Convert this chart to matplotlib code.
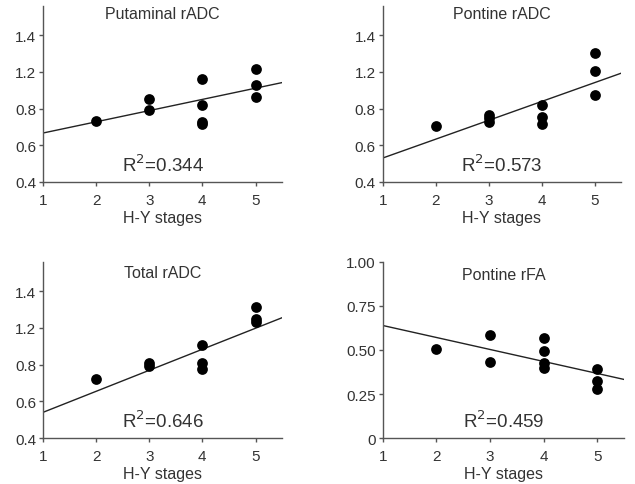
import matplotlib
matplotlib.use("Agg")
import matplotlib.pyplot as plt
import numpy as np

plt.rcParams['font.family'] = ['Liberation Sans', 'DejaVu Sans']

# ---- data ----
titles = ["Putaminal rADC", "Pontine rADC", "Total rADC", "Pontine rFA"]
r2_labels = ["R$^2$=0.344", "R$^2$=0.573", "R$^2$=0.646", "R$^2$=0.459"]

p1_x = [2, 3, 3, 4, 4, 4, 4, 5, 5, 5]
p1_y = [0.733, 0.851, 0.791, 0.964, 0.818, 0.727, 0.718, 1.015, 0.931, 0.862]
p1_line = [0.667, 0.942]

p2_x = [2, 3, 3, 3, 4, 4, 4, 5, 5, 5]
p2_y = [0.704, 0.767, 0.749, 0.727, 0.818, 0.755, 0.718, 1.105, 1.004, 0.876]
p2_line = [0.531, 0.993]

p3_x = [2, 3, 3, 4, 4, 4, 5, 5, 5]
p3_y = [0.720, 0.807, 0.795, 0.907, 0.809, 0.776, 1.113, 1.049, 1.031]
p3_line = [0.540, 1.056]

p4_x = [2, 3, 3, 4, 4, 4, 4, 5, 5, 5]
p4_y = [0.504, 0.583, 0.430, 0.568, 0.496, 0.427, 0.398, 0.393, 0.323, 0.276]
p4_line = [0.639, 0.333]

line_x = [1, 5.5]
x_ticks = [1, 2, 3, 4, 5]
radc_tick_pos = [0.4, 0.6, 0.8, 1.0, 1.2]
radc_tick_labels = ["0.4", "0.6", "0.8", "1.2", "1.4"]
fa_tick_pos = [0, 0.25, 0.5, 0.75, 1.0]
fa_tick_labels = ["0", "0.25", "0.50", "0.75", "1.00"]

fig = plt.figure(figsize=(6.35, 4.85), dpi=100)

positions = [
    [0.0677, 0.6227, 0.3765, 0.363],
    [0.603, 0.6227, 0.375, 0.363],
    [0.0677, 0.0948, 0.3765, 0.363],
    [0.603, 0.0948, 0.3795, 0.363],
]
title_y = [0.955, 0.955, 0.943, 0.93]
xs = [p1_x, p2_x, p3_x, p4_x]
ys = [p1_y, p2_y, p3_y, p4_y]
lines = [p1_line, p2_line, p3_line, p4_line]

txt_col = "#333333"
for i in range(4):
    ax = fig.add_axes(positions[i])
    ax.scatter(xs[i], ys[i], s=60, color="black", zorder=3, linewidths=0)
    ax.plot(line_x, lines[i], color="#222222", lw=1.0)
    ax.set_xlim(1, 5.5)
    if i < 3:
        ax.set_ylim(0.4, 1.36)
        ax.set_yticks(radc_tick_pos)
        ax.set_yticklabels(radc_tick_labels)
    else:
        ax.set_ylim(0, 1.0)
        ax.set_yticks(fa_tick_pos)
        ax.set_yticklabels(fa_tick_labels)
    ax.set_xticks(x_ticks)
    for s in ["top", "right"]:
        ax.spines[s].set_visible(False)
    for s in ["left", "bottom"]:
        ax.spines[s].set_color("#555555")
        ax.spines[s].set_linewidth(1.0)
    ax.tick_params(axis="y", direction="out", length=3, width=1, color="#555555",
                   labelsize=11, labelcolor=txt_col, pad=2)
    ax.tick_params(axis="x", direction="out", length=3, width=1, color="#555555",
                   labelsize=11, labelcolor=txt_col, pad=5)
    ax.set_xlabel("H-Y stages", fontsize=11.5, color=txt_col, labelpad=2)
    ax.text(0.5, title_y[i], titles[i], transform=ax.transAxes, ha="center", va="center",
            fontsize=11.5, color=txt_col)
    ax.text(0.5, 0.10, r2_labels[i], transform=ax.transAxes, ha="center", va="center",
            fontsize=13.5, color=txt_col)

fig.savefig("out.png", dpi=100)
